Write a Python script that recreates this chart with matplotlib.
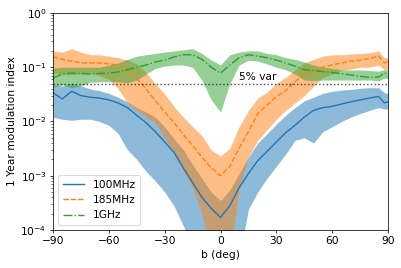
import numpy as np
import matplotlib
matplotlib.use("Agg")
import matplotlib.pyplot as plt

b_deg = [-90, -85, -80, -75, -70, -65, -60, -55, -50, -45, -40, -35, -30, -25, -20, -15, -10, -5, 0,
         5, 10, 15, 20, 25, 30, 35, 40, 45, 50, 55, 60, 65, 70, 75, 80, 85, 88, 90]

blue_mid = [0.034, 0.026, 0.036, 0.030, 0.028, 0.027, 0.025, 0.022, 0.018, 0.013, 0.0095, 0.0065, 0.0042,
            0.0027, 0.0014, 0.00075, 0.0004, 0.00025, 0.00017, 0.00028, 0.0006, 0.0011, 0.0019, 0.0028,
            0.0042, 0.0062, 0.0085, 0.012, 0.016, 0.018, 0.019, 0.021, 0.023, 0.025, 0.027, 0.029, 0.022, 0.023]
blue_hi = [0.047, 0.045, 0.05, 0.045, 0.04, 0.037, 0.033, 0.028, 0.023, 0.018, 0.015, 0.012, 0.008, 0.0048,
           0.003, 0.0016, 0.0009, 0.0005, 0.00035, 0.00055, 0.0011, 0.0022, 0.004, 0.006, 0.009, 0.013, 0.018,
           0.024, 0.028, 0.033, 0.036, 0.038, 0.039, 0.041, 0.042, 0.042, 0.034, 0.033]
blue_lo = [0.012, 0.011, 0.0105, 0.011, 0.011, 0.01, 0.0085, 0.006, 0.003, 0.002, 0.0012, 0.0008, 0.0005,
           0.00028, 0.00012, 5e-5, 3e-5, 3e-5, 3e-5, 3e-5, 3e-5, 0.00024, 0.0005, 0.0009, 0.0015, 0.0025,
           0.0045, 0.005, 0.004, 0.0065, 0.008, 0.01, 0.012, 0.014, 0.016, 0.018, 0.017, 0.017]

orange_mid = [0.155, 0.14, 0.13, 0.12, 0.12, 0.12, 0.115, 0.11, 0.089, 0.062, 0.04, 0.024, 0.015, 0.0095,
              0.0058, 0.0036, 0.0022, 0.0014, 0.001, 0.0015, 0.0032, 0.0065, 0.014, 0.02, 0.029, 0.037, 0.054,
              0.074, 0.085, 0.1, 0.11, 0.12, 0.13, 0.135, 0.145, 0.16, 0.12, 0.125]
orange_hi = [0.2, 0.19, 0.22, 0.19, 0.17, 0.17, 0.16, 0.15, 0.136, 0.115, 0.08, 0.05, 0.032, 0.019, 0.012,
             0.008, 0.0055, 0.003, 0.0023, 0.0032, 0.008, 0.016, 0.027, 0.035, 0.05, 0.065, 0.09, 0.12, 0.14,
             0.16, 0.17, 0.17, 0.175, 0.18, 0.185, 0.2, 0.15, 0.15]
orange_lo = [0.078, 0.075, 0.072, 0.075, 0.078, 0.07, 0.06, 0.04, 0.022, 0.016, 0.012, 0.0094, 0.005, 0.0027,
             0.0012, 0.0006, 0.0002, 3e-5, 3e-5, 3e-5, 0.0006, 0.0022, 0.0045, 0.007, 0.011, 0.016, 0.022,
             0.03, 0.045, 0.065, 0.075, 0.088, 0.092, 0.1, 0.1, 0.11, 0.09, 0.09]

green_mid = [0.063, 0.075, 0.078, 0.077, 0.075, 0.077, 0.078, 0.082, 0.09, 0.1, 0.11, 0.125, 0.135, 0.155,
             0.17, 0.17, 0.14, 0.1, 0.078, 0.11, 0.15, 0.17, 0.16, 0.15, 0.135, 0.12, 0.105, 0.09, 0.087,
             0.083, 0.08, 0.076, 0.072, 0.068, 0.065, 0.066, 0.078, 0.075]
green_hi = [0.096, 0.1, 0.1, 0.1, 0.1, 0.1, 0.11, 0.12, 0.14, 0.16, 0.17, 0.18, 0.19, 0.2, 0.21, 0.22, 0.18,
            0.136, 0.11, 0.17, 0.19, 0.2, 0.2, 0.18, 0.17, 0.15, 0.14, 0.125, 0.11, 0.1, 0.095, 0.09, 0.089,
            0.089, 0.087, 0.085, 0.09, 0.089]
green_lo = [0.043, 0.047, 0.042, 0.045, 0.053, 0.054, 0.054, 0.054, 0.052, 0.058, 0.075, 0.095, 0.105, 0.11,
            0.11, 0.1, 0.058, 0.025, 0.015, 0.05, 0.11, 0.135, 0.13, 0.115, 0.1, 0.09, 0.075, 0.058, 0.057,
            0.058, 0.058, 0.058, 0.058, 0.058, 0.058, 0.056, 0.063, 0.062]

labels = ["100MHz", "185MHz", "1GHz"]
var_level = 0.05
xticks = [-90, -60, -30, 0, 30, 60, 90]

plt.rcParams["font.size"] = 11.5

dpi = 401 / 6
fig = plt.figure(figsize=(6, 268 / dpi), dpi=dpi)
ax = fig.add_axes([53 / 401, 1 - 230 / 268, 335 / 401, 217 / 268])

series = [(blue_mid, blue_lo, blue_hi, "C0", "-"),
          (orange_mid, orange_lo, orange_hi, "C1", "--"),
          (green_mid, green_lo, green_hi, "C2", "-.")]
for (mid, lo, hi, c, ls), lab in zip(series, labels):
    ax.plot(b_deg, mid, color=c, ls=ls, lw=1.5, label=lab)
    ax.fill_between(b_deg, lo, hi, color=c, alpha=0.5, lw=0)

ax.axhline(var_level, color="k", ls=":", lw=1.5, alpha=0.7)
ax.text(10, var_level * 1.08, "5% var", va="bottom", ha="left")

ax.set_yscale("log")
ax.set_ylim(1e-4, 1)
ax.set_xlim(-90, 90)
ax.set_xticks(xticks)
ax.set_xlabel("b (deg)")
ax.set_ylabel("1 Year modulation index")
ax.legend(loc="lower left")

fig.savefig("out.png", dpi=dpi)
